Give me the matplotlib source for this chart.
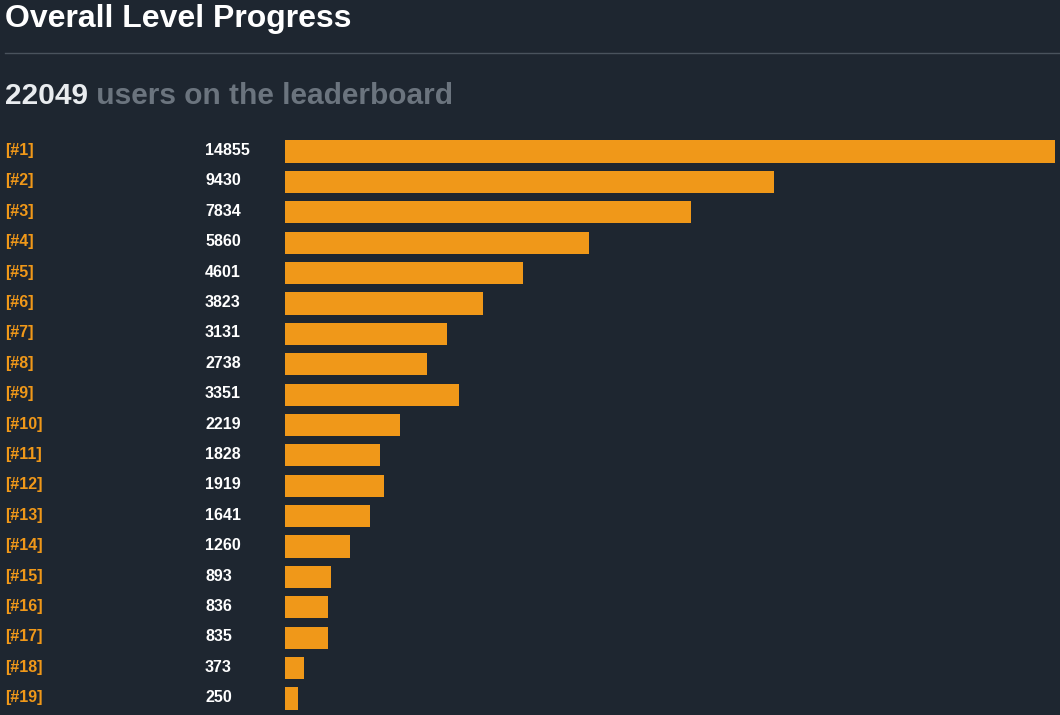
import matplotlib
matplotlib.use("Agg")
import matplotlib.pyplot as plt
import matplotlib.transforms as mtransforms

# ---- data ----
levels = [f"[#{i}]" for i in range(1, 20)]
users = [14855, 9430, 7834, 5860, 4601, 3823, 3131, 2738, 3351, 2219,
         1828, 1919, 1641, 1260, 893, 836, 835, 373, 250]
total_users = 22049

BG = "#1e2630"
ORANGE = "#f09819"
WHITE = "#ffffff"
GREY = "#6b747e"
RULE = "#4a535d"

plt.rcParams["font.family"] = ["Liberation Sans", "DejaVu Sans"]
plt.rcParams["font.weight"] = "bold"

W, H = 1060, 715
fig = plt.figure(figsize=(W / 100, H / 100), dpi=100, facecolor=BG)

# bar area in pixels -> figure fractions
left, right = 285, 1055
top, bottom = 136.3, 713.7
ax = fig.add_axes([left / W, 1 - bottom / H, (right - left) / W, (bottom - top) / H])
ax.set_facecolor(BG)

y = list(range(len(levels)))
ax.barh(y, users, height=0.73, color=ORANGE, edgecolor="none")
ax.set_xlim(0, max(users))
ax.set_ylim(len(levels) - 0.5, -0.5)
ax.axis("off")

# row labels: level in orange, count in white
trans = mtransforms.blended_transform_factory(fig.transFigure, ax.transData)
for yi, lab, val in zip(y, levels, users):
    ax.text(5 / W, yi - 0.03, lab, transform=trans, color=ORANGE, fontsize=11.5,
            fontweight="bold", va="center", ha="left", clip_on=False)
    ax.text(205 / W, yi - 0.03, str(val), transform=trans, color=WHITE, fontsize=11.5,
            fontweight="bold", va="center", ha="left", clip_on=False)

# header
fig.text(5 / W, 1 - 27 / H, "Overall Level Progress", color=WHITE, fontsize=23,
         fontweight="bold", va="baseline", ha="left")
fig.add_artist(plt.Line2D([5 / W, 1], [1 - 53 / H, 1 - 53 / H], color=RULE, lw=1))

t = fig.text(5 / W, 1 - 104 / H, str(total_users), color="#e9ecef", fontsize=21.5,
             fontweight="bold", va="baseline", ha="left")
ax.annotate(" users on the leaderboard", xy=(1, 0), xycoords=t,
            xytext=(0, 0), textcoords="offset points", color=GREY, fontsize=21.5,
            fontweight="bold", va="bottom", ha="left", annotation_clip=False)

fig.savefig("out.png", dpi=100, facecolor=BG)
